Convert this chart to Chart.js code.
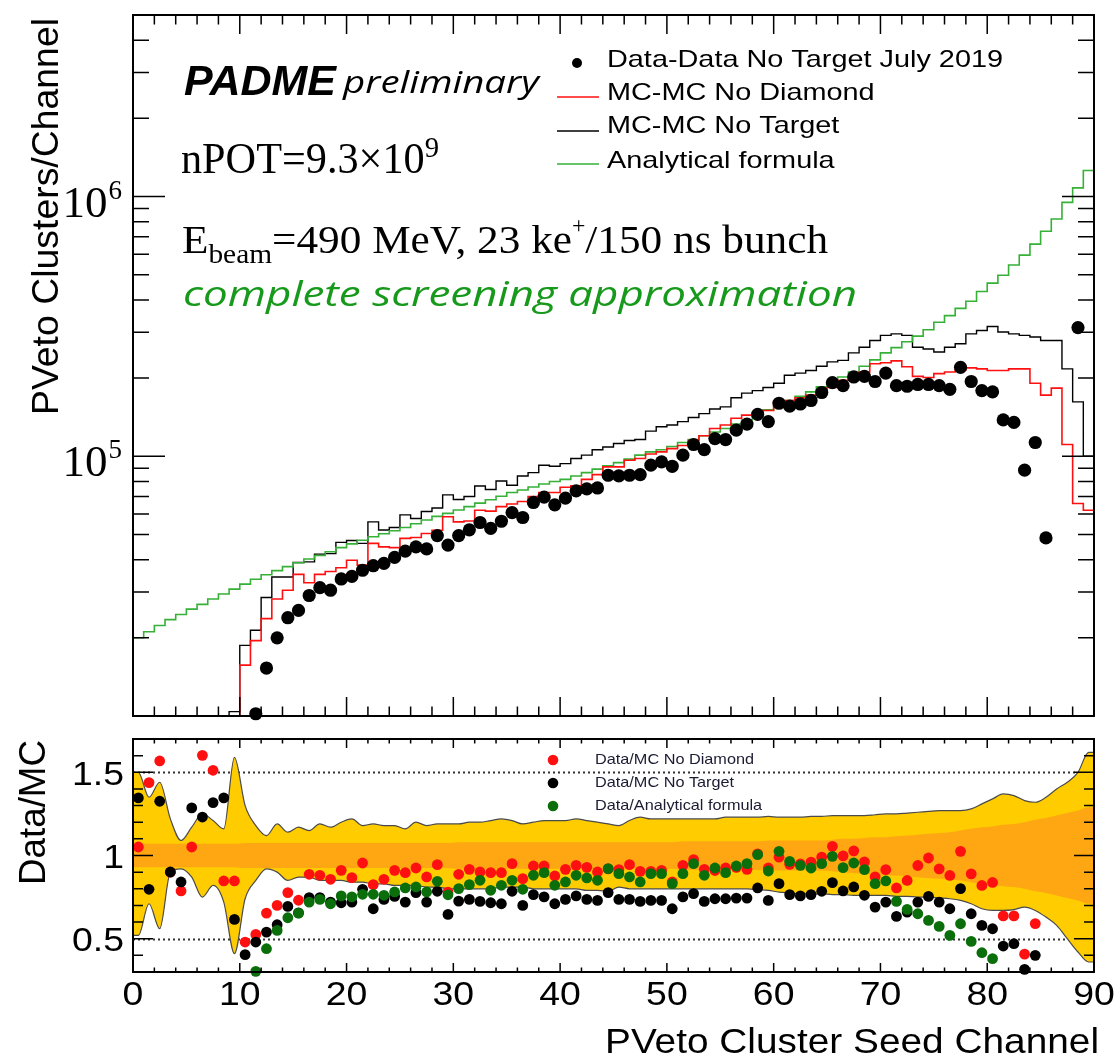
<!DOCTYPE html>
<html><head><meta charset="utf-8">
<script src="https://cdn.jsdelivr.net/npm/chart.js@4.4.0/dist/chart.umd.min.js"></script>
<style>
html,body{margin:0;padding:0;background:#fff;}
#wrap{position:relative;width:1117px;height:1057px;overflow:hidden;background:#fff;}
canvas{position:absolute;left:0;}
</style></head><body>
<div id="wrap">
<canvas id="cTop" width="1117" height="730" style="top:0;width:1117px;height:730px"></canvas>
<canvas id="cBot" width="1117" height="327" style="top:730px;width:1117px;height:327px"></canvas>
</div>
<script>
// ================= DATA =================
// channels 0..89 (bin i spans [i, i+1])
const dataCounts = [null,null,null,null,null,null,null,null,null,null,null,
1.02e4,1.53e4,2.00e4,2.39e4,2.55e4,2.91e4,3.12e4,3.05e4,3.37e4,
3.45e4,3.64e4,3.79e4,3.87e4,4.08e4,4.31e4,4.48e4,4.40e4,4.95e4,4.55e4,
4.95e4,5.21e4,5.56e4,5.28e4,5.62e4,6.07e4,5.81e4,6.64e4,6.96e4,6.50e4,
6.90e4,7.36e4,7.49e4,7.55e4,8.45e4,8.40e4,8.45e4,8.50e4,9.24e4,9.51e4,
9.15e4,1.01e5,1.11e5,1.06e5,1.17e5,1.16e5,1.26e5,1.33e5,1.45e5,1.36e5,
1.60e5,1.56e5,1.59e5,1.64e5,1.76e5,1.92e5,1.87e5,2.02e5,2.03e5,1.94e5,
2.09e5,1.87e5,1.86e5,1.89e5,1.89e5,1.87e5,1.81e5,2.20e5,1.94e5,1.79e5,
1.77e5,1.38e5,1.35e5,8.84e4,1.13e5,4.85e4,null,null,3.13e5,null];

const mcNoDiamond = [0,0,0,0,0,0,0,0,0,0,
1.57e4,1.95e4,2.37e4,2.82e4,3.05e4,3.51e4,3.26e4,3.51e4,3.60e4,3.72e4,
3.98e4,3.81e4,4.62e4,4.48e4,4.45e4,4.83e4,4.87e4,5.04e4,5.19e4,5.85e4,
5.59e4,5.63e4,6.20e4,6.15e4,6.40e4,6.55e4,6.70e4,7.00e4,7.25e4,7.25e4,
7.60e4,7.70e4,8.15e4,8.50e4,9.10e4,9.10e4,9.65e4,9.80e4,1.02e5,1.04e5,
1.07e5,1.10e5,1.15e5,1.20e5,1.28e5,1.32e5,1.40e5,1.44e5,1.43e5,1.50e5,
1.61e5,1.64e5,1.68e5,1.72e5,1.79e5,1.84e5,1.96e5,2.03e5,2.11e5,2.27e5,
2.29e5,2.33e5,2.21e5,2.03e5,2.01e5,2.08e5,2.11e5,2.15e5,2.19e5,2.17e5,
2.14e5,2.14e5,2.17e5,2.17e5,1.91e5,1.72e5,1.83e5,1.11e5,6.58e4,6.20e4];

const mcNoTarget = [0,0,0,0,0,0,0,0,0,1.04e4,
1.87e4,2.14e4,2.86e4,3.43e4,3.43e4,3.90e4,3.92e4,4.20e4,4.22e4,4.66e4,
4.74e4,4.62e4,5.59e4,5.20e4,5.32e4,5.95e4,5.76e4,6.13e4,6.32e4,7.10e4,
6.82e4,7.00e4,7.68e4,7.45e4,8.03e4,7.73e4,8.40e4,8.65e4,9.23e4,9.15e4,
9.37e4,9.80e4,1.01e5,1.06e5,1.085e5,1.12e5,1.15e5,1.16e5,1.25e5,1.30e5,
1.32e5,1.36e5,1.41e5,1.46e5,1.52e5,1.55e5,1.68e5,1.75e5,1.79e5,1.84e5,
1.91e5,2.05e5,2.09e5,2.14e5,2.22e5,2.31e5,2.34e5,2.50e5,2.63e5,2.79e5,
2.92e5,2.96e5,2.92e5,2.63e5,2.59e5,2.52e5,2.63e5,2.71e5,2.96e5,3.05e5,
3.16e5,3.01e5,2.96e5,2.92e5,2.88e5,2.79e5,2.79e5,2.17e5,1.62e5,1.00e5];

const analytical = [2.00e4,2.11e4,2.23e4,2.35e4,2.46e4,2.58e4,2.69e4,2.82e4,2.95e4,3.08e4,
3.22e4,3.36e4,3.50e4,3.63e4,3.76e4,3.89e4,4.02e4,4.15e4,4.29e4,4.45e4,
4.60e4,4.75e4,4.90e4,5.03e4,5.17e4,5.32e4,5.50e4,5.68e4,5.87e4,6.03e4,
6.21e4,6.40e4,6.60e4,6.80e4,7.02e4,7.25e4,7.42e4,7.62e4,7.82e4,8.00e4,
8.15e4,8.40e4,8.65e4,8.92e4,9.20e4,9.45e4,9.75e4,1.01e5,1.04e5,1.06e5,
1.09e5,1.13e5,1.16e5,1.20e5,1.24e5,1.28e5,1.33e5,1.38e5,1.45e5,1.51e5,
1.58e5,1.64e5,1.70e5,1.77e5,1.85e5,1.93e5,2.02e5,2.11e5,2.22e5,2.35e5,
2.50e5,2.62e5,2.76e5,2.90e5,3.07e5,3.28e5,3.48e5,3.71e5,3.95e5,4.31e5,
4.64e5,4.98e5,5.45e5,5.95e5,6.56e5,7.35e5,8.20e5,9.50e5,1.08e6,1.26e6];

const ratioNoDiamond = [1.051,1.438,1.568,0.90,0.787,1.051,1.602,1.512,0.847,0.847,
0.480,0.526,0.654,0.700,0.777,0.731,0.887,0.881,0.857,0.911,
0.867,0.955,0.825,0.857,0.911,0.897,0.925,0.871,0.945,0.78,
0.887,0.917,0.901,0.897,0.897,0.951,0.861,0.937,0.937,0.877,
0.917,0.941,0.929,0.901,0.92,0.915,0.945,0.905,0.905,0.911,
0.841,0.941,0.975,0.917,0.91,0.925,0.929,0.917,1.01,0.925,
0.99,0.947,0.949,0.96,0.99,1.055,0.998,1.028,0.962,0.872,
0.915,0.805,0.850,0.940,0.985,0.920,0.880,1.025,0.890,0.820,
0.838,0.637,0.637,0.407,0.591,null,null,null,null,null];

const ratioNoTarget = [1.346,0.797,1.326,0.901,0.841,1.286,1.231,1.318,1.346,0.616,
0.404,0.480,0.540,0.584,0.694,0.655,0.747,0.747,0.72,0.716,
0.720,0.797,0.680,0.736,0.754,0.720,0.777,0.720,0.785,0.646,
0.726,0.736,0.724,0.716,0.710,0.785,0.700,0.765,0.751,0.710,
0.736,0.757,0.736,0.730,0.777,0.736,0.736,0.724,0.730,0.730,
0.680,0.751,0.771,0.724,0.740,0.740,0.744,0.744,0.805,0.730,
0.831,0.765,0.757,0.765,0.785,0.837,0.787,0.811,0.761,0.690,
0.720,0.634,0.660,0.720,0.754,0.720,0.680,0.801,0.650,0.580,
0.560,0.456,0.470,0.316,0.400,null,null,null,null,null];

const ratioAnalytical = [null,null,null,null,null,null,null,null,null,null,null,
0.304,0.440,0.550,0.626,0.654,0.720,0.736,0.710,0.757,
0.751,0.767,0.767,0.761,0.781,0.805,0.811,0.781,0.845,0.764,
0.801,0.825,0.851,0.791,0.821,0.851,0.797,0.881,0.897,0.821,
0.841,0.881,0.865,0.851,0.921,0.891,0.871,0.841,0.891,0.891,
0.831,0.891,0.951,0.881,0.925,0.897,0.937,0.951,1.005,0.907,
1.025,0.965,0.941,0.925,0.951,0.995,0.927,0.955,0.915,0.831,
0.847,0.724,0.676,0.650,0.610,0.574,0.520,0.590,0.484,0.416,
0.380,null,null,null,null,null,null,null,null,null];

const bandOuterHi = [1.50,1.35,1.44,1.22,1.09,1.17,1.25,1.21,1.16,1.59,
1.30,1.18,1.12,1.19,1.14,1.17,1.15,1.19,1.17,1.20,
1.22,1.18,1.19,1.18,1.18,1.16,1.20,1.18,1.19,1.19,
1.19,1.20,1.20,1.21,1.22,1.21,1.19,1.20,1.21,1.21,
1.21,1.22,1.21,1.20,1.19,1.18,1.21,1.23,1.22,1.22,
1.22,1.22,1.22,1.22,1.22,1.23,1.23,1.23,1.23,1.235,
1.23,1.23,1.23,1.235,1.235,1.24,1.24,1.24,1.24,1.245,
1.25,1.25,1.255,1.26,1.265,1.27,1.27,1.27,1.28,1.31,
1.34,1.37,1.36,1.33,1.32,1.35,1.40,1.44,1.50,1.62];
const bandOuterLo = [0.52,0.71,0.56,0.90,0.92,0.87,0.75,0.82,0.72,0.41,
0.74,0.85,0.92,0.90,0.85,0.87,0.87,0.85,0.85,0.85,
0.84,0.84,0.83,0.83,0.82,0.82,0.82,0.81,0.81,0.80,
0.80,0.80,0.80,0.80,0.81,0.81,0.81,0.80,0.80,0.80,
0.80,0.80,0.79,0.79,0.785,0.81,0.80,0.80,0.80,0.80,
0.80,0.80,0.80,0.80,0.80,0.80,0.80,0.80,0.795,0.79,
0.78,0.775,0.77,0.77,0.77,0.765,0.765,0.76,0.76,0.76,
0.76,0.755,0.755,0.75,0.75,0.745,0.74,0.73,0.71,0.68,
0.67,0.67,0.675,0.69,0.67,0.63,0.58,0.50,0.42,0.36];
const bandInnerHi = [1.07,1.07,1.07,1.07,1.07,1.07,1.07,1.07,1.07,1.07,
1.075,1.075,1.075,1.075,1.075,1.075,1.075,1.075,1.075,1.075,
1.075,1.075,1.075,1.075,1.075,1.075,1.075,1.075,1.075,1.075,
1.08,1.08,1.08,1.08,1.08,1.08,1.08,1.08,1.08,1.08,
1.08,1.08,1.08,1.08,1.08,1.08,1.08,1.08,1.08,1.08,
1.08,1.085,1.085,1.085,1.085,1.085,1.085,1.085,1.085,1.09,
1.09,1.09,1.09,1.09,1.09,1.095,1.10,1.10,1.105,1.11,
1.11,1.115,1.12,1.125,1.13,1.135,1.14,1.15,1.16,1.17,
1.175,1.185,1.19,1.20,1.215,1.225,1.24,1.255,1.27,1.29];
const bandInnerLo = [0.93,0.93,0.93,0.93,0.93,0.93,0.93,0.93,0.93,0.93,
0.925,0.925,0.925,0.925,0.925,0.925,0.925,0.925,0.925,0.925,
0.925,0.925,0.925,0.925,0.925,0.925,0.925,0.925,0.925,0.925,
0.92,0.92,0.92,0.92,0.92,0.92,0.92,0.92,0.92,0.92,
0.92,0.92,0.92,0.92,0.92,0.92,0.92,0.92,0.92,0.92,
0.92,0.915,0.915,0.915,0.915,0.915,0.915,0.915,0.915,0.91,
0.91,0.91,0.91,0.91,0.91,0.905,0.90,0.895,0.89,0.885,
0.88,0.88,0.875,0.87,0.865,0.86,0.855,0.85,0.84,0.83,
0.825,0.815,0.81,0.80,0.785,0.775,0.76,0.745,0.73,0.71];

const xTickLabels = [0,10,20,30,40,50,60,70,80,90];
const logTickLabels = [1e5, 1e6];
const logMinorMult = [2,3,4,5,6,7,8,9];
const ratioTickLabels = [0.5, 1, 1.5];
const ratioMinor = [0.4,0.6,0.7,0.8,0.9,1.1,1.2,1.3,1.4,1.6];
const ratioRefLines = [0.5, 1.5];

// ================= HELPERS =================
const FS = '"Liberation Sans", Arial, Helvetica, sans-serif';
const FT = '"Liberation Serif", "Times New Roman", serif';
const FO = '"Open Sans", "DejaVu Sans", sans-serif';
const Y_MIN = 1e4, Y_MAX = 5e6;
const NB = dataCounts.length;

function stepPoints(arr, dropToMin) {
  const pts = arr.map((v, i) => ({x: i, y: Math.max(v || 0, Y_MIN)}));
  pts.push({x: NB, y: Math.max(arr[NB - 1] || 0, Y_MIN)});
  if (dropToMin) pts.push({x: NB, y: Y_MIN});
  return pts;
}
function centerPoints(arr) {
  const pts = [];
  arr.forEach((v, i) => { if (v !== null && v !== undefined) pts.push({x: i + 0.5, y: v}); });
  return pts;
}
function bandPoints(arr) {
  const pts = [{x: 0, y: arr[0]}];
  arr.forEach((v, i) => pts.push({x: i + 0.5, y: v}));
  pts.push({x: NB, y: arr[NB - 1]});
  return pts;
}
function txt(ctx, s, x, y, font, opt) {
  opt = opt || {};
  ctx.save();
  ctx.font = font;
  ctx.fillStyle = opt.color || '#000';
  ctx.textBaseline = opt.baseline || 'alphabetic';
  ctx.textAlign = 'left';
  const w = ctx.measureText(s).width;
  let sx = opt.sx || 1;
  if (opt.width) sx = opt.width / w;
  let ox = 0;
  if (opt.align === 'right') ox = -w * sx;
  else if (opt.align === 'center') ox = -w * sx / 2;
  ctx.translate(x + ox, y);
  ctx.scale(sx, 1);
  ctx.fillText(s, 0, 0);
  ctx.restore();
  return w * sx;
}
function vtxt(ctx, s, x, y, font, len) {
  ctx.save();
  ctx.font = font; ctx.fillStyle = '#000';
  ctx.textAlign = 'left'; ctx.textBaseline = 'alphabetic';
  const w = ctx.measureText(s).width;
  ctx.translate(x, y); ctx.rotate(-Math.PI / 2); ctx.scale(len / w, 1);
  ctx.fillText(s, 0, 0);
  ctx.restore();
}
function rich(ctx, segs, x, y, family, style, size, width, color) {
  ctx.save();
  ctx.fillStyle = color || '#000';
  ctx.textAlign = 'left'; ctx.textBaseline = 'alphabetic';
  let nat = 0;
  segs.forEach(s => { ctx.font = style + ' ' + (size * s[1]) + 'px ' + family; nat += ctx.measureText(s[0]).width; });
  ctx.translate(x, y); ctx.scale(width / nat, 1);
  let cx = 0;
  segs.forEach(s => { ctx.font = style + ' ' + (size * s[1]) + 'px ' + family; ctx.fillText(s[0], cx, s[2] * size); cx += ctx.measureText(s[0]).width; });
  ctx.restore();
}

// ================= TOP PANEL =================
const RED = '#ff1010', GREEN = '#36b036', DGREEN = '#0a6e0a';

const topDecor = {
  id: 'topDecor',
  afterDatasetsDraw(chart) {
    const {ctx, chartArea: a, scales: {x, y}} = chart;
    ctx.save();
    ctx.strokeStyle = '#000'; ctx.lineWidth = 1.5;
    ctx.beginPath();
    for (let c = 0; c <= 90; c += 2) {
      const px = x.getPixelForValue(c);
      const L = (c % 10 === 0) ? 19 : 9.5;
      ctx.moveTo(px, a.bottom); ctx.lineTo(px, a.bottom - L);
      ctx.moveTo(px, a.top); ctx.lineTo(px, a.top + L);
    }
    const decades = [1e4, 1e5, 1e6];
    decades.forEach(d => {
      [1].concat(logMinorMult).forEach(m => {
        const v = m * d;
        if (v <= Y_MIN || v >= Y_MAX) return;
        const py = y.getPixelForValue(v);
        const L = (m === 1) ? 32 : 16;
        ctx.moveTo(a.left, py); ctx.lineTo(a.left + L, py);
        ctx.moveTo(a.right, py); ctx.lineTo(a.right - L, py);
      });
    });
    ctx.stroke();
    ctx.lineWidth = 2;
    ctx.strokeRect(a.left, a.top, a.right - a.left, a.bottom - a.top);
    ctx.restore();
  },
  afterDraw(chart) {
    const {ctx, scales: {y}} = chart;
    // y tick labels 10^n
    logTickLabels.forEach(v => {
      const py = y.getPixelForValue(v);
      const e = String(Math.round(Math.log10(v)));
      ctx.save();
      ctx.fillStyle = '#000'; ctx.textAlign = 'right'; ctx.textBaseline = 'alphabetic';
      ctx.font = '27px ' + FT;
      ctx.fillText(e, 122, py + 2);
      const ew = ctx.measureText(e).width;
      ctx.font = '45px ' + FT;
      ctx.fillText('10', 122 - ew - 1, py + 20);
      ctx.restore();
    });
    // y title
    vtxt(ctx, 'PVeto Clusters/Channel', 58, 415, '37px ' + FS, 397);
    // annotations
    txt(ctx, 'PADME', 184, 95, 'italic bold 42px ' + FS, {width: 152});
    txt(ctx, 'preliminary', 343, 93, 'italic 31px ' + FO, {width: 196});
    rich(ctx, [['nPOT=9.3\u00d710', 1, 0], ['9', 0.68, -0.37]], 181, 173, FT, 'normal', 44, 258);
    rich(ctx, [['E', 1, 0], ['beam', 0.68, 0.24], ['=490 MeV, 23 ke', 1, 0], ['+', 0.55, -0.48], ['/150 ns bunch', 1, 0]], 182, 253, FT, 'normal', 41, 646);
    txt(ctx, 'complete screening approximation', 183, 306, 'italic 35px ' + FO, {width: 674, color: '#17991c'});
    // legend
    ctx.save();
    ctx.fillStyle = '#000';
    ctx.beginPath(); ctx.arc(577, 63, 5, 0, Math.PI * 2); ctx.fill();
    const lf = '24px ' + FS;
    ctx.font = lf;
    const sxL = 396 / ctx.measureText('Data-Data No Target July 2019').width;
    ctx.restore();
    txt(ctx, 'Data-Data No Target July 2019', 607, 67, lf, {sx: sxL});
    txt(ctx, 'MC-MC No Diamond', 607, 100, lf, {sx: sxL});
    txt(ctx, 'MC-MC No Target', 607, 133, lf, {sx: sxL});
    txt(ctx, 'Analytical formula', 607, 168, lf, {sx: sxL});
    [[97, RED], [131, '#000'], [164, GREEN]].forEach(([yy, c]) => {
      ctx.save(); ctx.strokeStyle = c; ctx.lineWidth = 1.6;
      ctx.beginPath(); ctx.moveTo(557, yy); ctx.lineTo(599, yy); ctx.stroke(); ctx.restore();
    });
  }
};

new Chart(document.getElementById('cTop'), {
  type: 'line',
  data: {
    datasets: [
      {label: 'Data-Data No Target July 2019', data: centerPoints(dataCounts), showLine: false,
        pointRadius: 6.6, pointBackgroundColor: '#000', pointBorderWidth: 0, pointBorderColor: '#000', clip: false, order: 0},
      {label: 'MC-MC No Diamond', data: stepPoints(mcNoDiamond, true), stepped: true, borderColor: RED,
        borderWidth: 1.6, pointRadius: 0, fill: false, order: 1},
      {label: 'Analytical formula', data: stepPoints(analytical, false), stepped: true, borderColor: GREEN,
        borderWidth: 1.6, pointRadius: 0, fill: false, order: 2},
      {label: 'MC-MC No Target', data: stepPoints(mcNoTarget, true), stepped: true, borderColor: '#000',
        borderWidth: 1.4, pointRadius: 0, fill: false, order: 3}
    ]
  },
  options: {
    responsive: false, animation: false, devicePixelRatio: 1, events: [],
    layout: {padding: {left: 133, right: 23, top: 15, bottom: 14}},
    scales: {
      x: {type: 'linear', min: 0, max: 90, display: false},
      y: {type: 'logarithmic', min: Y_MIN, max: Y_MAX, display: false}
    },
    plugins: {legend: {display: false}, tooltip: {enabled: false}}
  },
  plugins: [topDecor]
});

// ================= BOTTOM PANEL =================
const OFF = 730;
const botDecor = {
  id: 'botDecor',
  beforeDatasetsDraw(chart) {
    const {ctx, chartArea: a, scales: {y}} = chart;
    ctx.save();
    ctx.strokeStyle = '#333'; ctx.lineWidth = 2; ctx.setLineDash([2, 3]);
    ratioRefLines.forEach(v => {
      const py = Math.round(y.getPixelForValue(v)) + 0.5;
      ctx.beginPath(); ctx.moveTo(a.left, py); ctx.lineTo(a.right, py); ctx.stroke();
    });
    ctx.restore();
  },
  afterDatasetsDraw(chart) {
    const {ctx, chartArea: a, scales: {x, y}} = chart;
    ctx.save();
    ctx.strokeStyle = '#000'; ctx.lineWidth = 1.5;
    ctx.beginPath();
    for (let c = 0; c <= 90; c += 2) {
      const px = x.getPixelForValue(c);
      const L = (c % 10 === 0) ? 9 : 4.5;
      ctx.moveTo(px, a.bottom); ctx.lineTo(px, a.bottom - L);
      ctx.moveTo(px, a.top); ctx.lineTo(px, a.top + L);
    }
    ratioTickLabels.concat(ratioMinor).forEach(v => {
      const py = y.getPixelForValue(v);
      const L = ratioTickLabels.includes(v) ? 20 : 10;
      ctx.moveTo(a.left, py); ctx.lineTo(a.left + L, py);
      ctx.moveTo(a.right, py); ctx.lineTo(a.right - L, py);
    });
    ctx.stroke();
    ctx.lineWidth = 2;
    ctx.strokeRect(a.left, a.top, a.right - a.left, a.bottom - a.top);
    ctx.restore();
  },
  afterDraw(chart) {
    const {ctx, scales: {x, y}} = chart;
    // y labels
    ratioTickLabels.forEach(v => {
      txt(ctx, String(v), 124, y.getPixelForValue(v) + 12.5, '34px ' + FS, {align: 'right', sx: 1.1});
    });
    // x labels
    xTickLabels.forEach(v => {
      txt(ctx, String(v), x.getPixelForValue(v), 1005 - OFF, '34px ' + FS, {align: 'center', sx: 1.1});
    });
    txt(ctx, 'PVeto Cluster Seed Channel', 1099, 1053 - OFF, '35px ' + FS, {align: 'right', width: 494});
    vtxt(ctx, 'Data/MC', 45, 885 - OFF, '36px ' + FS, 145);
    // legend
    const lf = '15px ' + FS;
    ctx.save(); ctx.font = lf;
    const sxL = 159 / ctx.measureText('Data/MC No Diamond').width;
    ctx.restore();
    [['Data/MC No Diamond', RED, 760], ['Data/MC No Target', '#000', 783], ['Data/Analytical formula', DGREEN, 806]].forEach(([t, c, yy]) => {
      ctx.save(); ctx.fillStyle = c; ctx.beginPath(); ctx.arc(553, yy - OFF, 5.3, 0, Math.PI * 2); ctx.fill(); ctx.restore();
      txt(ctx, t, 595, yy - OFF, lf, {sx: sxL, baseline: 'middle', color: '#1b1b33'});
    });
  }
};

new Chart(document.getElementById('cBot'), {
  type: 'line',
  data: {
    datasets: [
      {label: 'band outer hi', data: bandPoints(bandOuterHi), fill: 1, backgroundColor: '#ffcc00',
        borderColor: '#4a4a4a', borderWidth: 1.2, pointRadius: 0, cubicInterpolationMode: 'monotone', order: 20},
      {label: 'band outer lo', data: bandPoints(bandOuterLo), fill: false,
        borderColor: '#4a4a4a', borderWidth: 1.2, pointRadius: 0, cubicInterpolationMode: 'monotone', order: 19},
      {label: 'band inner hi', data: bandPoints(bandInnerHi), fill: 3, backgroundColor: '#ffa712',
        borderWidth: 0, borderColor: 'rgba(0,0,0,0)', pointRadius: 0, cubicInterpolationMode: 'monotone', order: 18},
      {label: 'band inner lo', data: bandPoints(bandInnerLo), fill: false,
        borderWidth: 0, borderColor: 'rgba(0,0,0,0)', pointRadius: 0, cubicInterpolationMode: 'monotone', order: 17},
      {label: 'Data/MC No Diamond', data: centerPoints(ratioNoDiamond), showLine: false, pointRadius: 5.4,
        pointBackgroundColor: RED, pointBorderWidth: 0, clip: false, order: 3},
      {label: 'Data/MC No Target', data: centerPoints(ratioNoTarget), showLine: false, pointRadius: 5.4,
        pointBackgroundColor: '#000', pointBorderWidth: 0, clip: false, order: 2},
      {label: 'Data/Analytical formula', data: centerPoints(ratioAnalytical), showLine: false, pointRadius: 5.4,
        pointBackgroundColor: DGREEN, pointBorderWidth: 0, clip: false, order: 1}
    ]
  },
  options: {
    responsive: false, animation: false, devicePixelRatio: 1, events: [],
    layout: {padding: {left: 133, right: 23, top: 9, bottom: 85}},
    scales: {
      x: {type: 'linear', min: 0, max: 90, display: false},
      y: {type: 'linear', min: 0.3, max: 1.7, display: false}
    },
    plugins: {legend: {display: false}, tooltip: {enabled: false}, filler: {propagate: false}}
  },
  plugins: [botDecor]
});
</script>
</body></html>
